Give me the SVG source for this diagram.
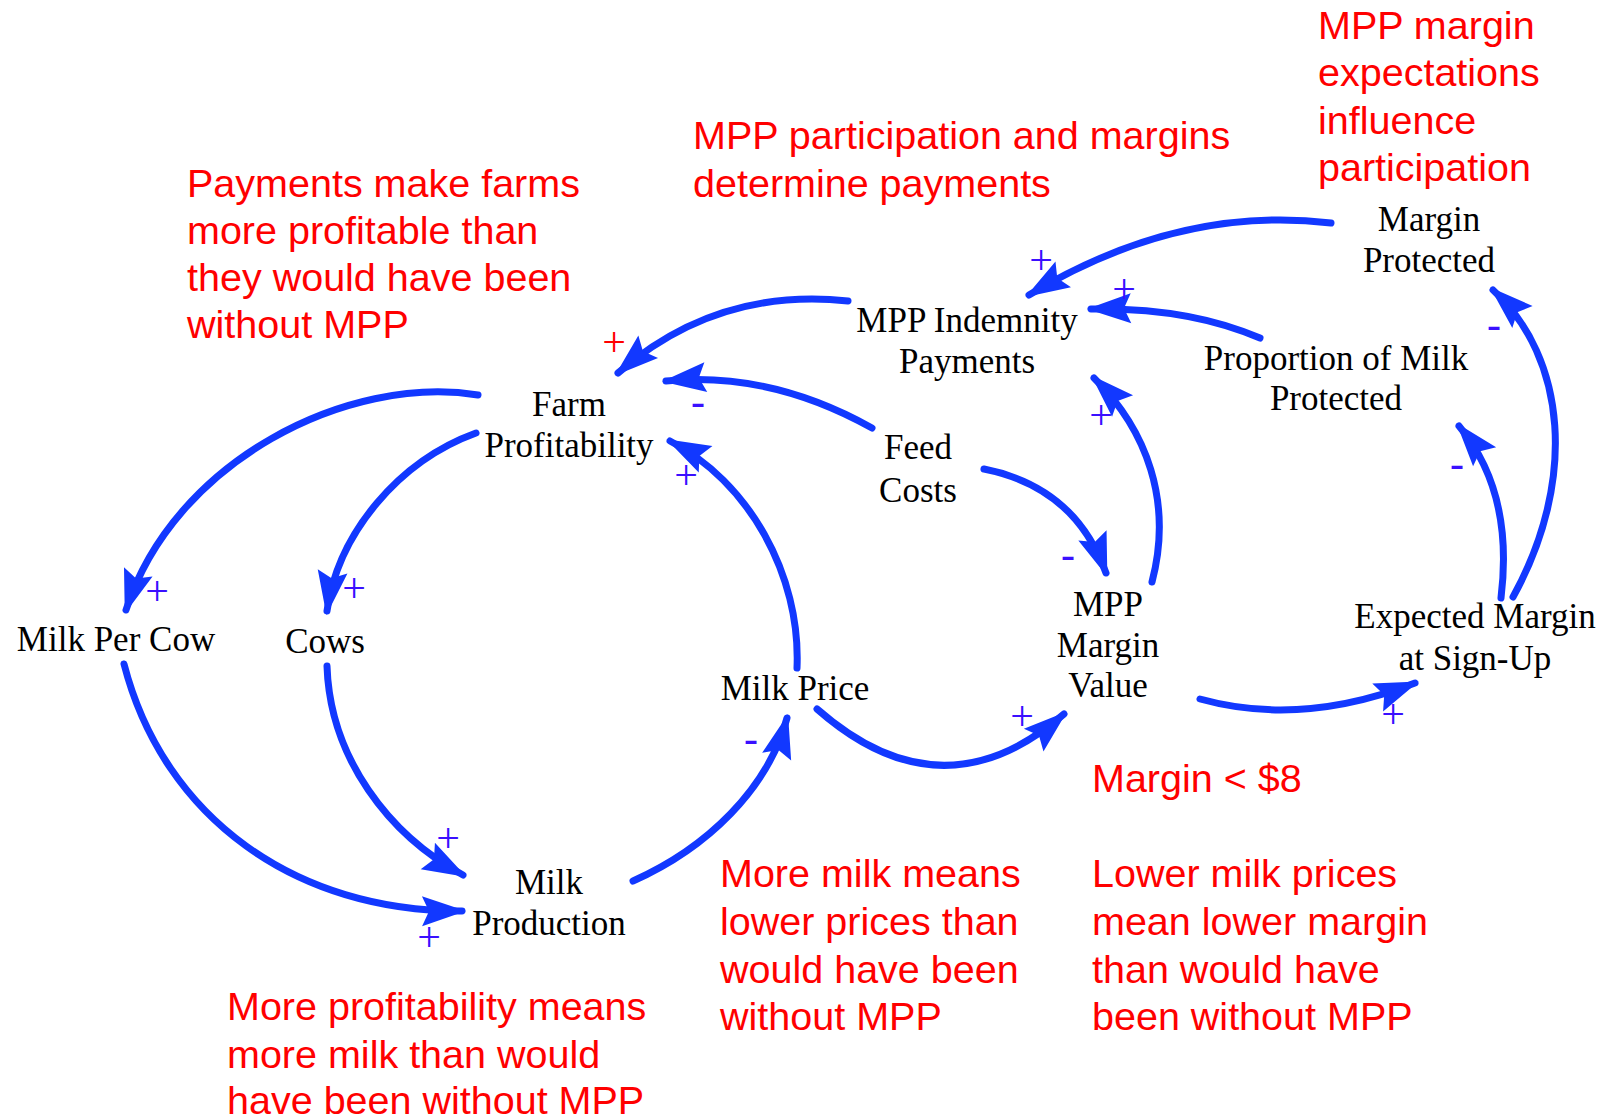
<svg xmlns="http://www.w3.org/2000/svg" width="1606" height="1117" viewBox="0 0 1606 1117">
<defs>
<marker id="arr" markerUnits="userSpaceOnUse" viewBox="-48 -18 52 36" markerWidth="52" markerHeight="36" refX="-4" refY="0" orient="auto">
<path d="M-44,-15 L0,0 L-44,15 L-37,0 Z" fill="#1238ff"/>
</marker>
<style>
.node{font-family:"Liberation Serif","Times New Roman",serif;font-size:35px;fill:#000;text-anchor:middle}
.note{font-family:"Liberation Sans",Arial,sans-serif;font-size:39.5px;fill:#ff0000}
.sign{font-family:"Liberation Serif","Times New Roman",serif;font-size:42px;fill:#3a10ff;text-anchor:middle}
.red{fill:#ff0000}
.link{fill:none;stroke:#1238ff;stroke-width:7;stroke-linecap:round;marker-end:url(#arr)}
</style>
</defs>
<rect width="1606" height="1117" fill="#fff"/>
<g id="connectors">
<path class="link" d="M848,301 Q717,287 618,373"/>
<path class="link" d="M872,428 Q770,371 666,381"/>
<path class="link" d="M797,668 C801,574 748,481 670,441"/>
<path class="link" d="M478,395 C348,374 174,461 126,610"/>
<path class="link" d="M476,433 C399,461 338,533 327,611"/>
<path class="link" d="M124,664 C164,819 297,912 462,911"/>
<path class="link" d="M327,666 C330,758 389,835 463,875"/>
<path class="link" d="M633,881 C707,848 768,789 787,718"/>
<path class="link" d="M817,709 Q942,819 1064,714"/>
<path class="link" d="M984,469 Q1075,487 1106,573"/>
<path class="link" d="M1152,582 C1173,502 1147,430 1094,378"/>
<path class="link" d="M1200,699 Q1301,727 1415,683"/>
<path class="link" d="M1501,598 Q1514,492 1459,426"/>
<path class="link" d="M1513,597 C1577,481 1567,358 1493,290"/>
<path class="link" d="M1331,223 Q1178,205 1029,295"/>
<path class="link" d="M1260,338 Q1188,307 1091,309"/>
</g>
<g id="signs">
<text class="sign red" x="614" y="356">+</text>
<text class="sign" x="1041" y="274">+</text>
<text class="sign" x="1124" y="303">+</text>
<text class="sign" x="698" y="415">-</text>
<text class="sign" x="686" y="489">+</text>
<text class="sign" x="1101" y="429">+</text>
<text class="sign" x="1494" y="338">-</text>
<text class="sign" x="1457" y="477">-</text>
<text class="sign" x="1068" y="568">-</text>
<text class="sign" x="157" y="605">+</text>
<text class="sign" x="354" y="602">+</text>
<text class="sign" x="751" y="752">-</text>
<text class="sign" x="1022" y="730">+</text>
<text class="sign" x="1393" y="728">+</text>
<text class="sign" x="448" y="852">+</text>
<text class="sign" x="429" y="951">+</text>
</g>
<g id="farm-profitability"><text class="node" x="569" y="416">Farm</text><text class="node" x="569" y="457">Profitability</text></g>
<g id="mpp-indemnity-payments"><text class="node" x="967" y="332">MPP Indemnity</text><text class="node" x="967" y="373">Payments</text></g>
<g id="margin-protected"><text class="node" x="1429" y="231">Margin</text><text class="node" x="1429" y="272">Protected</text></g>
<g id="proportion-protected"><text class="node" x="1336" y="370">Proportion of Milk</text><text class="node" x="1336" y="410">Protected</text></g>
<g id="feed-costs"><text class="node" x="918" y="459">Feed</text><text class="node" x="918" y="502">Costs</text></g>
<g id="mpp-margin-value"><text class="node" x="1108" y="616">MPP</text><text class="node" x="1108" y="657">Margin</text><text class="node" x="1108" y="697">Value</text></g>
<g id="expected-margin"><text class="node" x="1475" y="628">Expected Margin</text><text class="node" x="1475" y="670">at Sign-Up</text></g>
<g id="milk-per-cow"><text class="node" x="116" y="651">Milk Per Cow</text></g>
<g id="cows"><text class="node" x="325" y="653">Cows</text></g>
<g id="milk-price"><text class="node" x="795" y="700">Milk Price</text></g>
<g id="milk-production"><text class="node" x="549" y="894">Milk</text><text class="node" x="549" y="935">Production</text></g>
<g id="notes">
<text class="note" x="187" y="197">Payments make farms</text>
<text class="note" x="187" y="244">more profitable than</text>
<text class="note" x="187" y="291">they would have been</text>
<text class="note" x="187" y="338">without MPP</text>
<text class="note" x="693" y="149">MPP participation and margins</text>
<text class="note" x="693" y="197">determine payments</text>
<text class="note" x="1318" y="39">MPP margin</text>
<text class="note" x="1318" y="86">expectations</text>
<text class="note" x="1318" y="134">influence</text>
<text class="note" x="1318" y="181">participation</text>
<text class="note" x="1092" y="792">Margin &lt; $8</text>
<text class="note" x="720" y="887">More milk means</text>
<text class="note" x="720" y="935">lower prices than</text>
<text class="note" x="720" y="983">would have been</text>
<text class="note" x="720" y="1030">without MPP</text>
<text class="note" x="1092" y="887">Lower milk prices</text>
<text class="note" x="1092" y="935">mean lower margin</text>
<text class="note" x="1092" y="983">than would have</text>
<text class="note" x="1092" y="1030">been without MPP</text>
<text class="note" x="227" y="1020">More profitability means</text>
<text class="note" x="227" y="1068">more milk than would</text>
<text class="note" x="227" y="1114">have been without MPP</text>
</g>
</svg>
